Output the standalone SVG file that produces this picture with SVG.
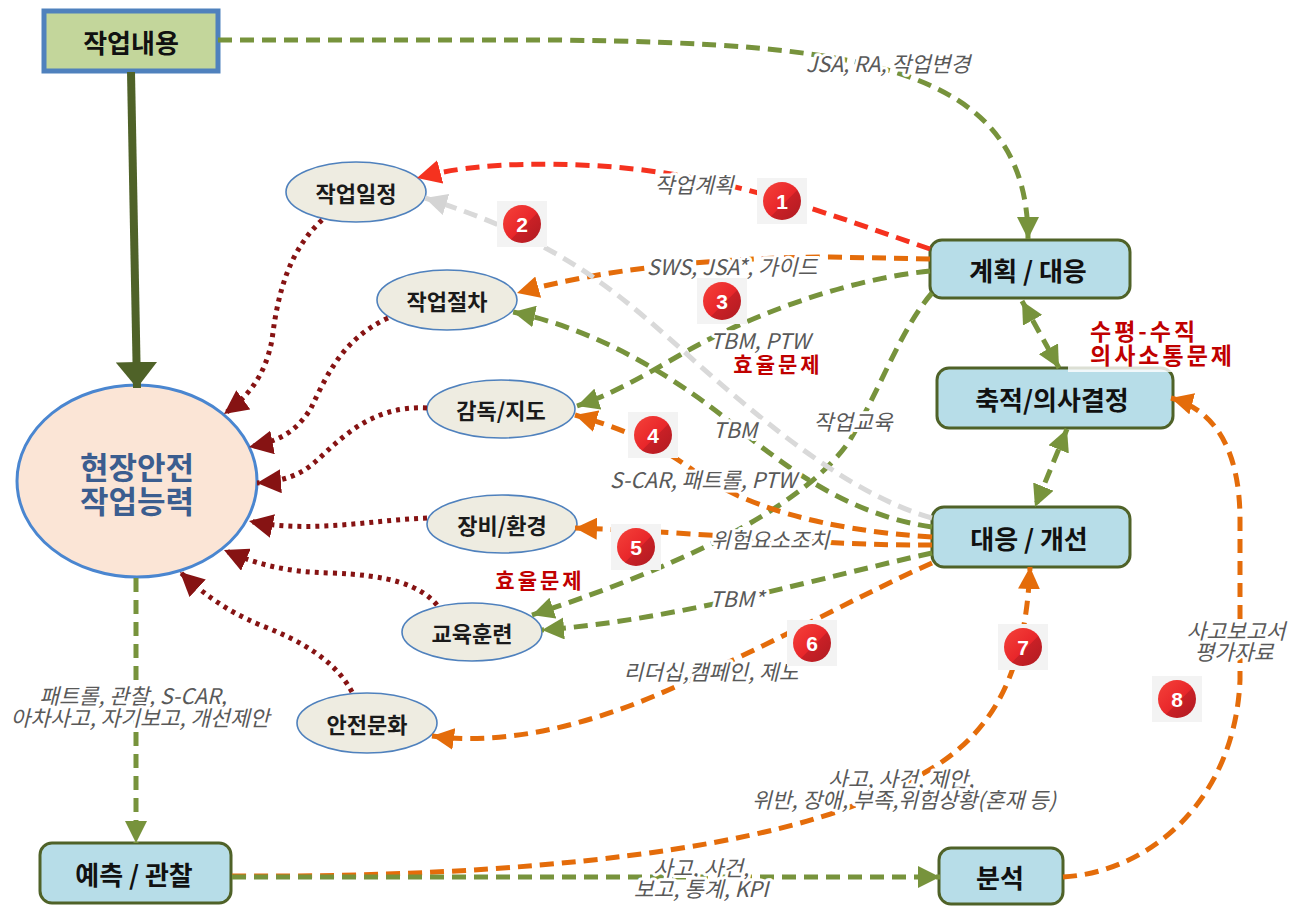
<svg xmlns="http://www.w3.org/2000/svg" width="1291" height="908" viewBox="0 0 1291 908">
  <defs>
    <style>
      .box{fill:#b7dde8;stroke:#4f6228;stroke-width:3}
      .ell{fill:#eeece1;stroke:#4f81bd;stroke-width:1.6}
      .t{font-family:"Noto Sans CJK KR","Noto Sans",sans-serif;font-weight:700;text-anchor:middle;dominant-baseline:central}
      .tb{font-size:26px;fill:#111}
      .ts{font-size:22px;fill:#1a1a1a}
      .lbl{font-family:"Noto Sans CJK KR","Noto Sans",sans-serif;font-style:italic;font-size:21.5px;fill:#595959;text-anchor:middle;dominant-baseline:central;stroke:#fff;stroke-width:6;stroke-linejoin:round;paint-order:stroke}
      .warn{font-family:"Noto Sans CJK KR","Noto Sans",sans-serif;font-weight:700;fill:#c00000;dominant-baseline:central}
      .ln{fill:none;stroke-width:5;stroke-dasharray:14 8}
      .g{stroke:#77933c}
      .o{stroke:#e46c0a}
      .r{stroke:#f5321f}
      .gr{stroke:#d9d9d9}
      .dot{fill:none;stroke:#861313;stroke-width:5;stroke-dasharray:4 5}
      .num{font-family:"Liberation Sans","DejaVu Sans",sans-serif;font-weight:700;font-size:21px;fill:#fff;text-anchor:middle;dominant-baseline:central}
    </style>
    <linearGradient id="badgeFill" x1="0" y1="0" x2="1" y2="1">
      <stop offset="0" stop-color="#f5423a"/>
      <stop offset="0.55" stop-color="#e8262a"/>
      <stop offset="0.56" stop-color="#c92026"/>
      <stop offset="1" stop-color="#b01b22"/>
    </linearGradient>
    <g id="badge">
      <rect x="-25" y="-23" width="50" height="46" fill="#f3f3f3"/>
      <circle r="19" fill="url(#badgeFill)"/>
    </g>
    <marker id="mg" viewBox="0 0 10 10" refX="10" refY="5" markerWidth="22" markerHeight="22" markerUnits="userSpaceOnUse" orient="auto-start-reverse">
      <path d="M0,0 L10,5 L0,10 z" fill="#77933c"/>
    </marker>
    <marker id="mo" viewBox="0 0 10 10" refX="10" refY="5" markerWidth="22" markerHeight="22" markerUnits="userSpaceOnUse" orient="auto">
      <path d="M0,0 L10,5 L0,10 z" fill="#e46c0a"/>
    </marker>
    <marker id="mr" viewBox="0 0 10 10" refX="10" refY="5" markerWidth="24" markerHeight="24" markerUnits="userSpaceOnUse" orient="auto">
      <path d="M0,0 L10,5 L0,10 z" fill="#f5321f"/>
    </marker>
    <marker id="mgr" viewBox="0 0 10 10" refX="10" refY="5" markerWidth="22" markerHeight="22" markerUnits="userSpaceOnUse" orient="auto">
      <path d="M0,0 L10,5 L0,10 z" fill="#d4d4d4"/>
    </marker>
    <marker id="md" viewBox="0 0 10 10" refX="10" refY="5" markerWidth="24" markerHeight="24" markerUnits="userSpaceOnUse" orient="auto">
      <path d="M0,0 L10,5 L0,10 z" fill="#861313"/>
    </marker>
    <marker id="mdg" viewBox="0 0 10 16" refX="10" refY="8" markerWidth="26" markerHeight="42" markerUnits="userSpaceOnUse" orient="auto">
      <path d="M0,0 L10,8 L0,16 z" fill="#4f6228"/>
    </marker>
  </defs>

  <rect width="1291" height="908" fill="#fff"/>

  <!-- nodes -->
  <g id="node-work">
    <rect x="44" y="11" width="174" height="60" fill="#c3d69b" stroke="#4f81bd" stroke-width="5"/>
    <text class="t tb" x="131" y="41">작업내용</text>
  </g>
  <g id="node-capability">
    <ellipse cx="137" cy="481" rx="120" ry="96" fill="#fbe5d6" stroke="#4a86d0" stroke-width="3"/>
    <text class="t" font-size="31" fill="#3b5d8f"><tspan x="137" y="465">현장안전</tspan><tspan x="137" y="499">작업능력</tspan></text>
  </g>
  <g id="node-schedule">
    <ellipse class="ell" cx="356" cy="192" rx="70" ry="30"/>
    <text class="t ts" x="356" y="192">작업일정</text>
  </g>
  <g id="node-procedure">
    <ellipse class="ell" cx="447" cy="300" rx="70" ry="30"/>
    <text class="t ts" x="447" y="300">작업절차</text>
  </g>
  <g id="node-supervision">
    <ellipse class="ell" cx="501" cy="409" rx="74" ry="29"/>
    <text class="t ts" x="501" y="409">감독/지도</text>
  </g>
  <g id="node-equipment">
    <ellipse class="ell" cx="502" cy="524" rx="75" ry="29"/>
    <text class="t ts" x="502" y="524">장비/환경</text>
  </g>
  <g id="node-training">
    <ellipse class="ell" cx="472" cy="632" rx="70" ry="29"/>
    <text class="t ts" x="472" y="632">교육훈련</text>
  </g>
  <g id="node-culture">
    <ellipse class="ell" cx="367" cy="723" rx="70" ry="30"/>
    <text class="t ts" x="367" y="723">안전문화</text>
  </g>
  <g id="node-plan">
    <rect class="box" x="930" y="240" width="200" height="58" rx="12"/>
    <text class="t tb" x="1028" y="269">계획 / 대응</text>
  </g>
  <g id="node-decision">
    <rect class="box" x="937" y="368" width="236" height="60" rx="12"/>
    <text class="t tb" x="1052" y="398">축적/의사결정</text>
  </g>
  <g id="node-improve">
    <rect class="box" x="932" y="507" width="198" height="60" rx="12"/>
    <text class="t tb" x="1029" y="537">대응 / 개선</text>
  </g>
  <g id="node-observe">
    <rect class="box" x="40" y="843" width="191" height="60" rx="12"/>
    <text class="t tb" x="134" y="873">예측 / 관찰</text>
  </g>
  <g id="node-analysis">
    <rect class="box" x="939" y="848" width="124" height="56" rx="12"/>
    <text class="t tb" x="1000" y="876">분석</text>
  </g>

  <!-- connectors -->
  <g id="connectors">
    <!-- work content to capability -->
    <path d="M131 72 L137 388" fill="none" stroke="#4f6228" stroke-width="8" marker-end="url(#mdg)"/>

    <!-- elements feeding capability (dotted) -->
    <path class="dot" d="M322 220 C290 250 278 290 272 340 C265 375 250 395 224 414" marker-end="url(#md)"/>
    <path class="dot" d="M388 318 C340 340 325 380 310 410 C295 432 280 441 249 447" marker-end="url(#md)"/>
    <path class="dot" d="M427 408 C370 405 340 440 315 462 C300 475 285 481 257 483" marker-end="url(#md)"/>
    <path class="dot" d="M427 518 C370 520 310 534 249 521" marker-end="url(#md)"/>
    <path class="dot" d="M437 605 C420 585 390 575 330 573 C290 572 260 566 224 550" marker-end="url(#md)"/>
    <path class="dot" d="M352 692 C335 660 300 640 260 625 C225 610 205 595 180 572" marker-end="url(#md)"/>

    <!-- top flow -->
    <path class="ln g" d="M218 40 L560 40 C850 44 1028 62 1028 239" marker-end="url(#mg)"/>

    <!-- from plan/response -->
    <path class="ln r" d="M930 249 C830 215 720 170 580 165 C500 162 455 168 417 178" marker-end="url(#mr)"/>
    <path class="ln o" d="M930 259 L830 257 C700 258 600 270 517 293" marker-end="url(#mo)"/>
    <path class="ln g" d="M930 271 C840 280 740 320 680 355 C640 378 610 395 577 406" marker-end="url(#mg)"/>
    <path class="ln g" d="M932 293 C900 330 880 390 850 440 C810 500 700 560 532 615" marker-end="url(#mg)"/>

    <!-- from response/improvement -->
    <path class="ln gr" d="M932 518 C850 495 760 420 680 348 C620 295 560 240 425 198" marker-end="url(#mgr)"/>
    <path class="ln g" d="M932 527 C850 515 790 470 740 430 C680 380 600 330 513 312" marker-end="url(#mg)"/>
    <path class="ln o" d="M932 537 C820 530 740 505 690 468 C650 440 620 428 575 415" marker-end="url(#mo)"/>
    <path class="ln o" d="M932 545 C820 546 700 532 575 528" marker-end="url(#mo)"/>
    <path class="ln g" d="M932 553 C830 575 680 620 542 630" marker-end="url(#mg)"/>
    <path class="ln o" d="M932 563 C860 595 780 640 700 675 C620 715 520 748 432 736" marker-end="url(#mo)"/>

    <!-- right column links -->
    <path class="ln g" d="M1022 301 L1059 368" marker-start="url(#mg)" marker-end="url(#mg)"/>
    <path class="ln g" d="M1067 429 L1035 507" marker-start="url(#mg)" marker-end="url(#mg)"/>

    <!-- observation loop -->
    <path class="ln g" d="M136 578 L136 843" marker-end="url(#mg)"/>
    <path class="ln o" d="M232 876 C520 878 780 850 900 785 C990 745 1025 680 1030 567" marker-end="url(#mo)"/>
    <path class="ln g" d="M232 877 L940 877" marker-end="url(#mg)"/>
    <path class="ln o" d="M1063 877 C1150 872 1235 800 1240 680 L1240 520 C1240 450 1215 410 1171 398" marker-end="url(#mo)"/>
  </g>

  <!-- backdrop of the communication note over the decision box edge -->
  <rect x="1068" y="312" width="108" height="60" fill="#fff" opacity="0.8"/>

  <!-- connector labels -->
  <g id="labels">
    <text class="lbl" x="888" y="62">JSA, RA, 작업변경</text>
    <text class="lbl" x="694" y="183">작업계획</text>
    <text class="lbl" x="732" y="265">SWS, JSA*, 가이드</text>
    <text class="lbl" x="760" y="339">TBM, PTW</text>
    <text class="lbl" x="735" y="428">TBM</text>
    <text class="lbl" x="853" y="420">작업교육</text>
    <text class="lbl" x="703" y="478">S-CAR, 패트롤, PTW</text>
    <text class="lbl" x="770" y="538">위험요소조치</text>
    <text class="lbl" x="737" y="597">TBM*</text>
    <text class="lbl" x="711" y="670">리더십,캠페인, 제노</text>
    <text class="lbl"><tspan x="901" y="777">사고, 사건, 제안,</tspan><tspan x="904" y="798">위반, 장애, 부족,위험상황(혼재 등)</tspan></text>
    <text class="lbl"><tspan x="701" y="866">사고, 사건,</tspan><tspan x="701" y="887">보고, 통계, KPI</tspan></text>
    <text class="lbl"><tspan x="1236" y="629">사고보고서</tspan><tspan x="1234" y="650">평가자료</tspan></text>
    <text class="lbl"><tspan x="133" y="694">패트롤, 관찰, S-CAR,</tspan><tspan x="140" y="716">아차사고, 자기보고, 개선제안</tspan></text>
  </g>

  <!-- issue notes -->
  <g id="notes">
    <text class="warn" x="778" y="363" text-anchor="middle" font-size="21" letter-spacing="3">효율문제</text>
    <text class="warn" x="540" y="579" text-anchor="middle" font-size="21" letter-spacing="3">효율문제</text>
    <text class="warn" font-size="23" letter-spacing="3"><tspan x="1090" y="330">수평-수직</tspan><tspan x="1090" y="354">의사소통문제</tspan></text>
  </g>

  <!-- numbered markers -->
  <g id="badges">
    <use href="#badge" x="782" y="201"/><text class="num" x="782" y="201">1</text>
    <use href="#badge" x="522" y="224"/><text class="num" x="522" y="224">2</text>
    <use href="#badge" x="722" y="301"/><text class="num" x="722" y="301">3</text>
    <use href="#badge" x="653" y="435"/><text class="num" x="653" y="435">4</text>
    <use href="#badge" x="636" y="547"/><text class="num" x="636" y="547">5</text>
    <use href="#badge" x="812" y="643"/><text class="num" x="812" y="643">6</text>
    <use href="#badge" x="1023" y="647"/><text class="num" x="1023" y="647">7</text>
    <use href="#badge" x="1177" y="699"/><text class="num" x="1177" y="699">8</text>
  </g>
</svg>
